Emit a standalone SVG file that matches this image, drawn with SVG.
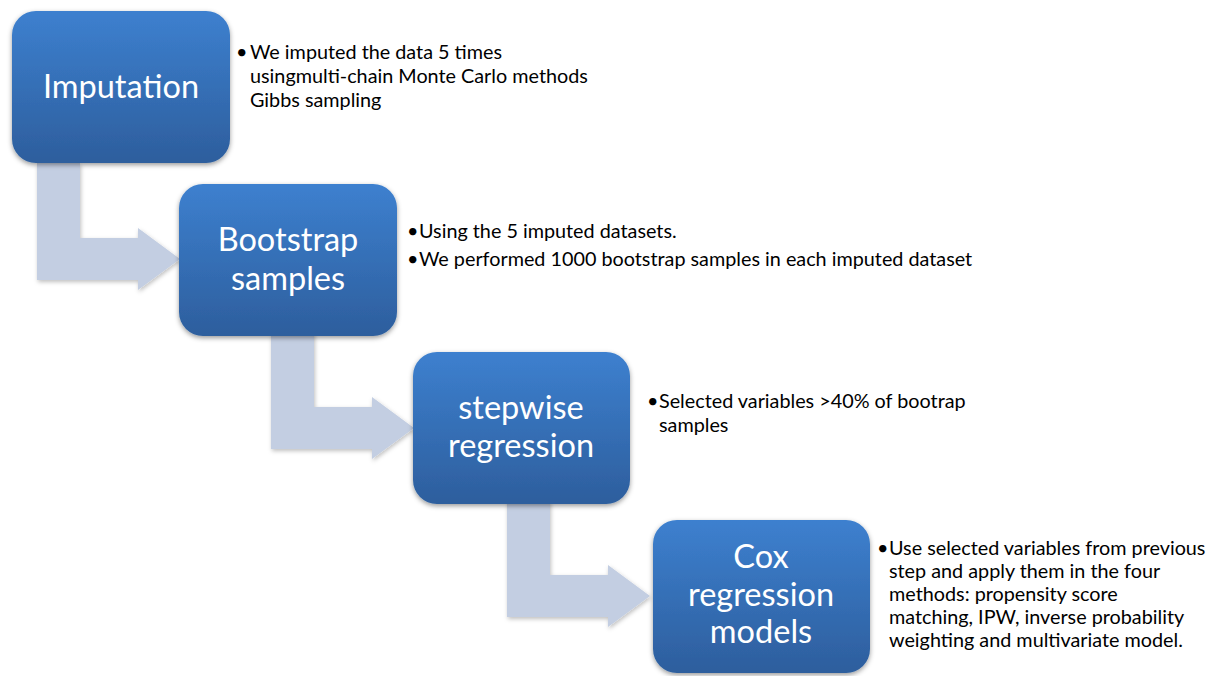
<svg xmlns="http://www.w3.org/2000/svg" width="1226" height="676" viewBox="0 0 1226 676">
<defs>
<linearGradient id="bg" x1="0" y1="0" x2="0" y2="1">
<stop offset="0" stop-color="#3d80cf"/>
<stop offset="1" stop-color="#2d5e9d"/>
</linearGradient>
<filter id="sh" x="-10%" y="-10%" width="120%" height="125%">
<feDropShadow dx="0" dy="2" stdDeviation="2.5" flood-color="#000" flood-opacity="0.4"/>
</filter>
<filter id="ash" x="-10%" y="-10%" width="125%" height="125%">
<feDropShadow dx="1" dy="2" stdDeviation="2" flood-color="#000" flood-opacity="0.25"/>
</filter>
<path id="arr" d="M0,0 H43 V75 H101 V65 L143,96 L101,127 V117 H0 Z"/>
</defs>
<style>
.box{fill:url(#bg);filter:url(#sh)}
.lbl{font-family:Lato,"Open Sans",sans-serif;font-size:32.5px;fill:#fff;text-anchor:middle}
.desc{font-family:Lato,"Open Sans",sans-serif;font-size:19.8px;fill:#000}
.arrow{fill:#c3cee2;filter:url(#ash)}
</style>
<rect width="1226" height="676" fill="#fff"/>
<g id="connectors">
<use href="#arr" class="arrow" x="37" y="163"/>
<use href="#arr" class="arrow" x="271" y="332"/>
<use href="#arr" class="arrow" x="507" y="500"/>
</g>
<g id="node-imputation">
<rect class="box" x="12" y="11" width="218" height="152" rx="24"/>
<text class="lbl" x="121" y="98">Imputation</text>
<text class="desc" x="236" y="59">•</text>
<text class="desc" x="250" y="59">We imputed the data 5 times</text>
<text class="desc" x="250" y="83">usingmulti-chain Monte Carlo methods</text>
<text class="desc" x="250" y="107">Gibbs sampling</text>
</g>
<g id="node-bootstrap">
<rect class="box" x="179" y="184" width="218" height="152" rx="24"/>
<text class="lbl" x="288" y="251">Bootstrap</text>
<text class="lbl" x="288" y="290">samples</text>
<text class="desc" x="407" y="238">•</text>
<text class="desc" x="419" y="238">Using the 5 imputed datasets.</text>
<text class="desc" x="407" y="266">•</text>
<text class="desc" x="419" y="266">We performed 1000 bootstrap samples in each imputed dataset</text>
</g>
<g id="node-stepwise">
<rect class="box" x="413" y="352" width="217" height="152" rx="24"/>
<text class="lbl" x="521" y="419">stepwise</text>
<text class="lbl" x="521" y="457">regression</text>
<text class="desc" x="647" y="408">•</text>
<text class="desc" x="659" y="408">Selected variables &gt;40% of bootrap</text>
<text class="desc" x="659" y="432">samples</text>
</g>
<g id="node-cox">
<rect class="box" x="653" y="520" width="217" height="153" rx="24"/>
<text class="lbl" x="761" y="568">Cox</text>
<text class="lbl" x="761" y="606">regression</text>
<text class="lbl" x="761" y="643">models</text>
<text class="desc" x="877" y="555">•</text>
<text class="desc" x="889" y="555">Use selected variables from previous</text>
<text class="desc" x="889" y="578">step and apply them in the four</text>
<text class="desc" x="889" y="601">methods: propensity score</text>
<text class="desc" x="889" y="624">matching, IPW, inverse probability</text>
<text class="desc" x="889" y="647">weighting and multivariate model.</text>
</g>
</svg>
